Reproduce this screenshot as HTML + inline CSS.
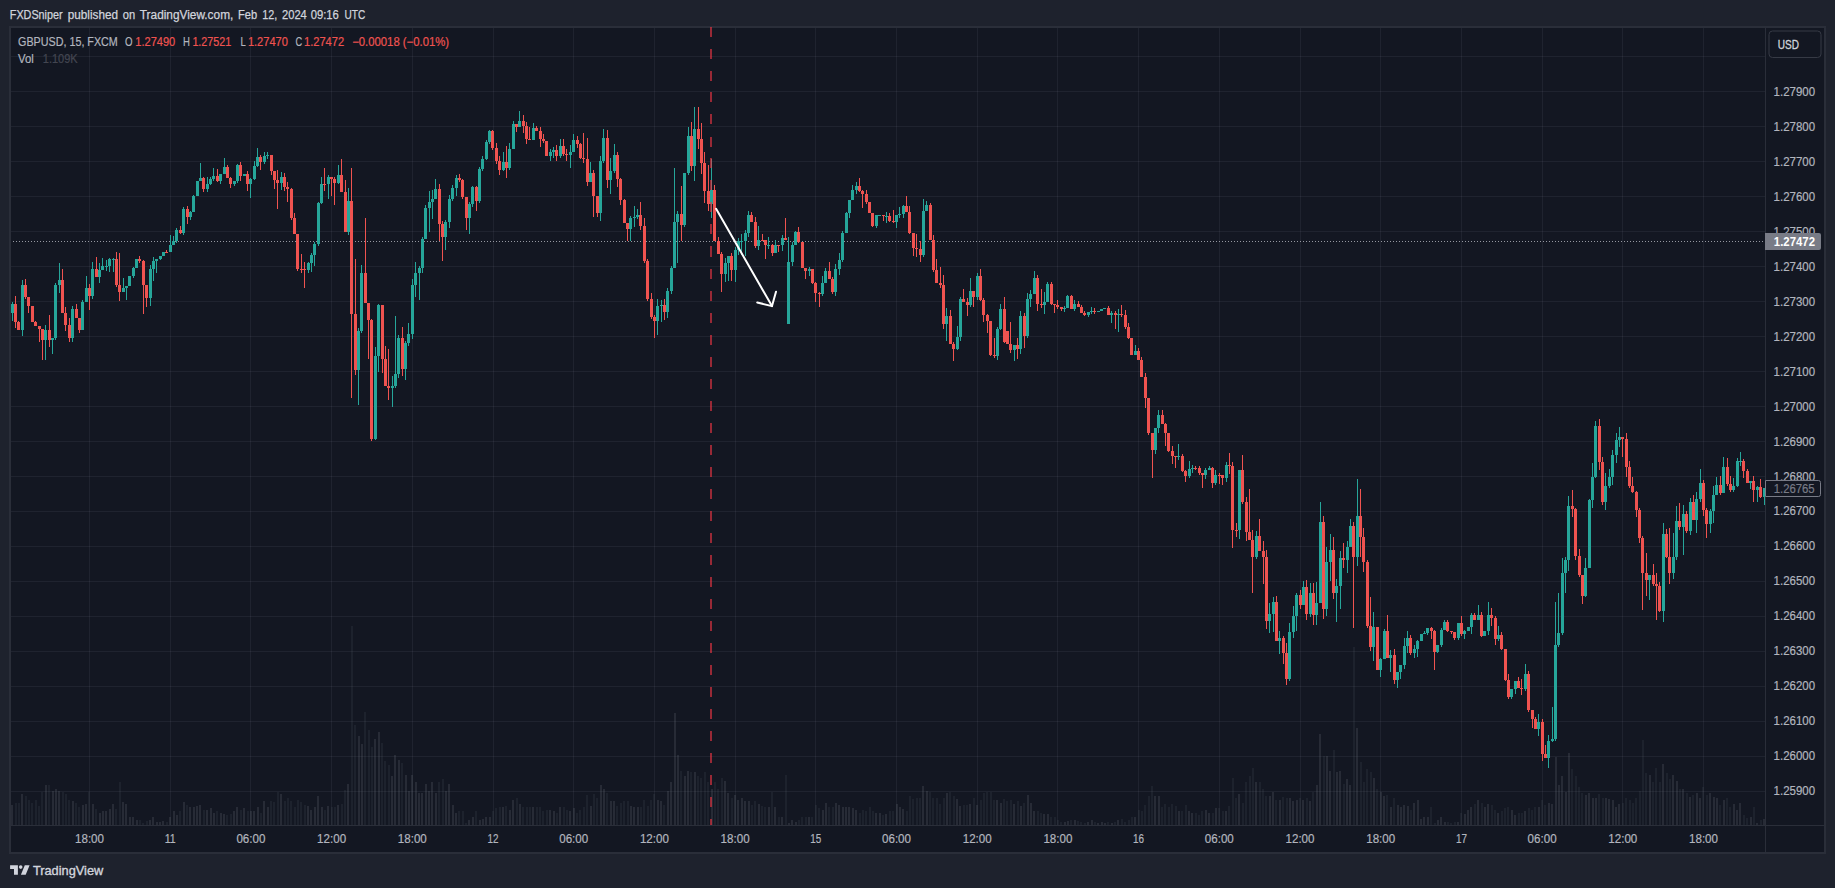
<!DOCTYPE html>
<html lang="en"><head><meta charset="utf-8"><title>GBPUSD chart</title>
<style>
html,body{margin:0;padding:0;}
body{width:1835px;height:888px;background:#1e222d;overflow:hidden;position:relative;font-family:"Liberation Sans","DejaVu Sans",sans-serif;}
#c{position:absolute;left:0;top:0;}
.t{position:absolute;white-space:nowrap;line-height:1;}
svg text{font-family:"Liberation Sans","DejaVu Sans",sans-serif;}
</style></head><body>
<svg id="c" width="1835" height="888" viewBox="0 0 1835 888" shape-rendering="crispEdges">
<rect x="9" y="26" width="1817" height="828" fill="#2a2e39"/>
<rect x="11" y="28" width="1813" height="824" fill="#131722"/>
<path d="M11 56.5H1765M11 91.5H1765M11 126.5H1765M11 161.5H1765M11 196.5H1765M11 231.5H1765M11 266.5H1765M11 301.5H1765M11 336.5H1765M11 371.5H1765M11 406.5H1765M11 441.5H1765M11 476.5H1765M11 511.5H1765M11 546.5H1765M11 581.5H1765M11 616.5H1765M11 651.5H1765M11 686.5H1765M11 721.5H1765M11 756.5H1765M11 791.5H1765" stroke="rgba(240,243,250,0.06)" stroke-width="1" fill="none"/>
<path d="M89.5 28V825M170.5 28V825M250.5 28V825M331.5 28V825M412.5 28V825M493.5 28V825M573.5 28V825M654.5 28V825M735.5 28V825M815.5 28V825M896.5 28V825M977.5 28V825M1057.5 28V825M1138.5 28V825M1219.5 28V825M1300.5 28V825M1380.5 28V825M1461.5 28V825M1542.5 28V825M1622.5 28V825M1703.5 28V825" stroke="rgba(240,243,250,0.06)" stroke-width="1" fill="none"/>
<path d="M1765.5 28V852 M11 825.5H1824" stroke="#2a2e39" stroke-width="1" fill="none"/>
<path d="M11 825h2V804.8h-2zM21 825h2V794.4h-2zM45 825h2V785.4h-2zM52 825h2V790.5h-2zM55 825h2V788.5h-2zM58 825h2V791.1h-2zM72 825h2V801.4h-2zM82 825h2V805.3h-2zM85 825h2V803.5h-2zM92 825h2V803.5h-2zM99 825h2V812.6h-2zM102 825h2V810.5h-2zM105 825h2V810.5h-2zM109 825h2V808.7h-2zM112 825h2V803.5h-2zM122 825h2V801.7h-2zM125 825h2V803.5h-2zM129 825h2V817.2h-2zM132 825h2V817.2h-2zM136 825h2V820.3h-2zM149 825h2V819.6h-2zM152 825h2V817.2h-2zM156 825h2V822.4h-2zM159 825h2V822.4h-2zM162 825h2V821.1h-2zM169 825h2V816.5h-2zM173 825h2V811.3h-2zM176 825h2V815.2h-2zM183 825h2V802.2h-2zM189 825h2V806.6h-2zM193 825h2V807.4h-2zM196 825h2V805.6h-2zM199 825h2V804.8h-2zM206 825h2V809.5h-2zM210 825h2V808.2h-2zM213 825h2V812.6h-2zM220 825h2V812.6h-2zM223 825h2V814.4h-2zM233 825h2V810.5h-2zM236 825h2V807.4h-2zM243 825h2V808.2h-2zM250 825h2V811.3h-2zM253 825h2V810.5h-2zM257 825h2V807.4h-2zM263 825h2V801.4h-2zM267 825h2V807.4h-2zM280 825h2V794.4h-2zM307 825h2V805.6h-2zM310 825h2V809.5h-2zM314 825h2V806.6h-2zM317 825h2V796.2h-2zM321 825h2V806.6h-2zM327 825h2V805.6h-2zM337 825h2V804.8h-2zM347 825h2V783.5h-2zM358 825h2V736.1h-2zM361 825h2V744.4h-2zM374 825h2V739.2h-2zM378 825h2V731.5h-2zM391 825h2V775.5h-2zM394 825h2V754.8h-2zM398 825h2V759.5h-2zM405 825h2V774.5h-2zM408 825h2V791.3h-2zM411 825h2V774.5h-2zM415 825h2V782.3h-2zM418 825h2V793.1h-2zM421 825h2V793.1h-2zM425 825h2V783.5h-2zM428 825h2V791.3h-2zM431 825h2V782.3h-2zM435 825h2V793.1h-2zM445 825h2V790.5h-2zM448 825h2V783.5h-2zM452 825h2V804.8h-2zM455 825h2V812.6h-2zM468 825h2V819.6h-2zM472 825h2V817.2h-2zM479 825h2V819.6h-2zM482 825h2V818.5h-2zM485 825h2V817.2h-2zM489 825h2V816.5h-2zM502 825h2V806.6h-2zM509 825h2V809.5h-2zM512 825h2V800.4h-2zM519 825h2V803.5h-2zM532 825h2V807.4h-2zM549 825h2V809.5h-2zM553 825h2V810.5h-2zM559 825h2V807.4h-2zM569 825h2V810.5h-2zM573 825h2V808.2h-2zM590 825h2V805.6h-2zM600 825h2V784.6h-2zM603 825h2V788.5h-2zM610 825h2V801.4h-2zM613 825h2V801.4h-2zM630 825h2V805.6h-2zM633 825h2V806.6h-2zM637 825h2V806.6h-2zM657 825h2V800.4h-2zM660 825h2V801.4h-2zM667 825h2V790.5h-2zM670 825h2V782.3h-2zM674 825h2V713.3h-2zM677 825h2V754.8h-2zM684 825h2V776.3h-2zM687 825h2V770.6h-2zM694 825h2V771.6h-2zM711 825h2V788.5h-2zM724 825h2V780.7h-2zM727 825h2V793.1h-2zM734 825h2V795.2h-2zM737 825h2V799.6h-2zM741 825h2V798.3h-2zM744 825h2V801.4h-2zM748 825h2V801.4h-2zM758 825h2V803.5h-2zM768 825h2V807.4h-2zM774 825h2V807.4h-2zM781 825h2V817.2h-2zM788 825h2V823.4h-2zM791 825h2V820.3h-2zM795 825h2V822.4h-2zM808 825h2V816.5h-2zM822 825h2V809.5h-2zM825 825h2V802.7h-2zM835 825h2V802.7h-2zM838 825h2V804.8h-2zM842 825h2V807.4h-2zM845 825h2V806.6h-2zM848 825h2V807.4h-2zM852 825h2V808.2h-2zM855 825h2V809.5h-2zM875 825h2V813.3h-2zM879 825h2V813.3h-2zM885 825h2V814.4h-2zM896 825h2V803.5h-2zM899 825h2V807.4h-2zM902 825h2V808.7h-2zM922 825h2V786.1h-2zM926 825h2V790.5h-2zM946 825h2V793.1h-2zM956 825h2V799.1h-2zM959 825h2V805.6h-2zM969 825h2V803.5h-2zM976 825h2V804.8h-2zM996 825h2V800.4h-2zM1000 825h2V802.7h-2zM1013 825h2V804.3h-2zM1020 825h2V805.6h-2zM1027 825h2V795.2h-2zM1030 825h2V802.7h-2zM1033 825h2V811.3h-2zM1043 825h2V814.4h-2zM1047 825h2V814.4h-2zM1064 825h2V822.4h-2zM1067 825h2V821.1h-2zM1074 825h2V820.3h-2zM1087 825h2V821.6h-2zM1091 825h2V820.3h-2zM1097 825h2V823.4h-2zM1101 825h2V822.4h-2zM1104 825h2V822.9h-2zM1111 825h2V822.9h-2zM1117 825h2V820.3h-2zM1134 825h2V816.5h-2zM1154 825h2V796.2h-2zM1158 825h2V796.2h-2zM1178 825h2V810.5h-2zM1188 825h2V810.5h-2zM1191 825h2V812.6h-2zM1205 825h2V809.5h-2zM1208 825h2V813.3h-2zM1215 825h2V808.2h-2zM1225 825h2V810.5h-2zM1238 825h2V794.4h-2zM1255 825h2V781.5h-2zM1269 825h2V796.2h-2zM1272 825h2V791.8h-2zM1279 825h2V800.4h-2zM1289 825h2V798.3h-2zM1292 825h2V801.4h-2zM1296 825h2V799.6h-2zM1302 825h2V800.4h-2zM1309 825h2V801.4h-2zM1316 825h2V784.6h-2zM1319 825h2V733.5h-2zM1326 825h2V755.6h-2zM1329 825h2V770.6h-2zM1336 825h2V771.6h-2zM1339 825h2V770.6h-2zM1346 825h2V779.4h-2zM1349 825h2V785.4h-2zM1356 825h2V728.4h-2zM1373 825h2V777.6h-2zM1380 825h2V791.8h-2zM1383 825h2V796.2h-2zM1390 825h2V806.6h-2zM1397 825h2V804.8h-2zM1400 825h2V806.6h-2zM1403 825h2V804.8h-2zM1407 825h2V805.6h-2zM1413 825h2V802.7h-2zM1417 825h2V800.4h-2zM1420 825h2V818.5h-2zM1423 825h2V816.5h-2zM1427 825h2V816.5h-2zM1437 825h2V819.6h-2zM1440 825h2V817.2h-2zM1444 825h2V821.6h-2zM1457 825h2V822.4h-2zM1464 825h2V814.4h-2zM1467 825h2V809.5h-2zM1470 825h2V807.4h-2zM1477 825h2V800.4h-2zM1484 825h2V807.4h-2zM1487 825h2V803.5h-2zM1497 825h2V812.6h-2zM1511 825h2V809.5h-2zM1514 825h2V815.2h-2zM1524 825h2V811.3h-2zM1538 825h2V807.4h-2zM1548 825h2V802.7h-2zM1551 825h2V803.5h-2zM1555 825h2V756.9h-2zM1558 825h2V785.4h-2zM1561 825h2V775.5h-2zM1565 825h2V791.8h-2zM1568 825h2V752.5h-2zM1585 825h2V795.2h-2zM1588 825h2V793.1h-2zM1592 825h2V797.5h-2zM1595 825h2V797.5h-2zM1605 825h2V798.3h-2zM1608 825h2V799.1h-2zM1612 825h2V800.4h-2zM1615 825h2V806.6h-2zM1618 825h2V803.5h-2zM1649 825h2V774.5h-2zM1662 825h2V764.1h-2zM1672 825h2V774.5h-2zM1676 825h2V780.7h-2zM1682 825h2V788.5h-2zM1689 825h2V797h-2zM1696 825h2V793.1h-2zM1699 825h2V797.5h-2zM1709 825h2V793.1h-2zM1713 825h2V797h-2zM1716 825h2V797.5h-2zM1723 825h2V800.4h-2zM1733 825h2V803.5h-2zM1736 825h2V809.5h-2zM1739 825h2V802.7h-2zM1750 825h2V817.2h-2zM1756 825h2V823.4h-2zM1763 825h2V818.5h-2z" fill="rgba(120,123,134,0.2)"/>
<path d="M15 825h2V802.7h-2zM18 825h2V802.7h-2zM25 825h2V796.2h-2zM28 825h2V799.6h-2zM31 825h2V802.7h-2zM35 825h2V799.6h-2zM38 825h2V805.6h-2zM41 825h2V792.4h-2zM48 825h2V785.4h-2zM62 825h2V791.8h-2zM65 825h2V794.4h-2zM68 825h2V800.4h-2zM75 825h2V803h-2zM78 825h2V806.6h-2zM88 825h2V791.8h-2zM95 825h2V808.7h-2zM115 825h2V808.7h-2zM119 825h2V781.5h-2zM139 825h2V819.6h-2zM142 825h2V823.4h-2zM146 825h2V820.9h-2zM166 825h2V821.6h-2zM179 825h2V810.8h-2zM186 825h2V804.8h-2zM203 825h2V809.5h-2zM216 825h2V810.5h-2zM226 825h2V815.2h-2zM230 825h2V814.4h-2zM240 825h2V809.5h-2zM247 825h2V810.5h-2zM260 825h2V812.6h-2zM270 825h2V801.4h-2zM273 825h2V802.2h-2zM277 825h2V791.8h-2zM284 825h2V801.4h-2zM287 825h2V797.5h-2zM290 825h2V801.4h-2zM294 825h2V806.6h-2zM297 825h2V800.4h-2zM300 825h2V802.2h-2zM304 825h2V804.8h-2zM324 825h2V809.5h-2zM331 825h2V806.6h-2zM334 825h2V807.4h-2zM341 825h2V803.5h-2zM344 825h2V790h-2zM351 825h2V626h-2zM354 825h2V724.5h-2zM364 825h2V712.3h-2zM368 825h2V730.4h-2zM371 825h2V746.5h-2zM381 825h2V743.4h-2zM384 825h2V760.8h-2zM388 825h2V765.4h-2zM401 825h2V762.6h-2zM438 825h2V781.5h-2zM442 825h2V779.4h-2zM458 825h2V811.3h-2zM462 825h2V810.5h-2zM465 825h2V823.4h-2zM475 825h2V810.5h-2zM492 825h2V810.5h-2zM495 825h2V808.2h-2zM499 825h2V807.4h-2zM505 825h2V805.6h-2zM516 825h2V798.3h-2zM522 825h2V806.6h-2zM526 825h2V807.4h-2zM529 825h2V807.4h-2zM536 825h2V807.4h-2zM539 825h2V807.4h-2zM542 825h2V811.3h-2zM546 825h2V809.5h-2zM556 825h2V812.6h-2zM563 825h2V807.4h-2zM566 825h2V809.5h-2zM576 825h2V813.3h-2zM579 825h2V809.5h-2zM583 825h2V806.6h-2zM586 825h2V795.2h-2zM593 825h2V794.4h-2zM596 825h2V797.5h-2zM606 825h2V793.1h-2zM616 825h2V805.6h-2zM620 825h2V802.7h-2zM623 825h2V801.4h-2zM627 825h2V801.4h-2zM640 825h2V806.6h-2zM643 825h2V799.6h-2zM647 825h2V805.6h-2zM650 825h2V799.6h-2zM653 825h2V794.4h-2zM663 825h2V804.8h-2zM680 825h2V770.6h-2zM690 825h2V771.6h-2zM697 825h2V775.5h-2zM700 825h2V778.4h-2zM704 825h2V771.6h-2zM707 825h2V782.3h-2zM714 825h2V782.3h-2zM717 825h2V789.2h-2zM721 825h2V777.6h-2zM731 825h2V797.5h-2zM751 825h2V804.8h-2zM754 825h2V801.4h-2zM761 825h2V805.6h-2zM764 825h2V807.4h-2zM771 825h2V792.4h-2zM778 825h2V817.2h-2zM785 825h2V774.5h-2zM798 825h2V819.6h-2zM801 825h2V816.5h-2zM805 825h2V817.2h-2zM811 825h2V817.2h-2zM815 825h2V804.8h-2zM818 825h2V808.2h-2zM828 825h2V806.6h-2zM832 825h2V807.4h-2zM859 825h2V812.6h-2zM862 825h2V809.5h-2zM865 825h2V811.3h-2zM869 825h2V807.4h-2zM872 825h2V811.3h-2zM882 825h2V815.2h-2zM889 825h2V810.5h-2zM892 825h2V811.3h-2zM906 825h2V810.5h-2zM909 825h2V795.7h-2zM912 825h2V799.1h-2zM916 825h2V798.3h-2zM919 825h2V798.3h-2zM929 825h2V791.8h-2zM932 825h2V797.5h-2zM936 825h2V797.5h-2zM939 825h2V803.5h-2zM943 825h2V797.5h-2zM949 825h2V792.4h-2zM953 825h2V796.2h-2zM963 825h2V804.8h-2zM966 825h2V804.8h-2zM973 825h2V798.3h-2zM980 825h2V800.4h-2zM983 825h2V793.1h-2zM986 825h2V791.8h-2zM990 825h2V791.8h-2zM993 825h2V800.4h-2zM1003 825h2V799.1h-2zM1006 825h2V801.4h-2zM1010 825h2V800.4h-2zM1017 825h2V801.4h-2zM1023 825h2V802.7h-2zM1037 825h2V810.5h-2zM1040 825h2V812.6h-2zM1050 825h2V816.5h-2zM1054 825h2V817.2h-2zM1057 825h2V820.3h-2zM1060 825h2V822.4h-2zM1070 825h2V820.3h-2zM1077 825h2V821.1h-2zM1080 825h2V821.6h-2zM1084 825h2V822.9h-2zM1094 825h2V822.4h-2zM1107 825h2V822.4h-2zM1114 825h2V821.6h-2zM1121 825h2V818.5h-2zM1124 825h2V821.6h-2zM1128 825h2V820.3h-2zM1131 825h2V817.2h-2zM1138 825h2V809.5h-2zM1141 825h2V810.5h-2zM1144 825h2V804.8h-2zM1148 825h2V796.2h-2zM1151 825h2V786.1h-2zM1161 825h2V806.6h-2zM1164 825h2V803.5h-2zM1168 825h2V807.4h-2zM1171 825h2V803.5h-2zM1175 825h2V805.6h-2zM1181 825h2V810.5h-2zM1185 825h2V804.8h-2zM1195 825h2V813.3h-2zM1198 825h2V815.2h-2zM1201 825h2V810.5h-2zM1212 825h2V812.6h-2zM1218 825h2V808.2h-2zM1222 825h2V810.5h-2zM1228 825h2V805.6h-2zM1232 825h2V778.4h-2zM1235 825h2V797.5h-2zM1242 825h2V802.7h-2zM1245 825h2V782.3h-2zM1249 825h2V775.5h-2zM1252 825h2V767.7h-2zM1259 825h2V781.5h-2zM1262 825h2V789.2h-2zM1265 825h2V795.7h-2zM1275 825h2V799.6h-2zM1282 825h2V797h-2zM1286 825h2V798.3h-2zM1299 825h2V798.3h-2zM1306 825h2V797.5h-2zM1312 825h2V792.4h-2zM1323 825h2V755.6h-2zM1333 825h2V749.6h-2zM1343 825h2V783.5h-2zM1353 825h2V646.8h-2zM1360 825h2V761.5h-2zM1363 825h2V781.5h-2zM1366 825h2V768.5h-2zM1370 825h2V772.4h-2zM1376 825h2V788.5h-2zM1386 825h2V795.2h-2zM1393 825h2V798.3h-2zM1410 825h2V809.5h-2zM1430 825h2V806.6h-2zM1434 825h2V823.4h-2zM1447 825h2V821.6h-2zM1450 825h2V822.9h-2zM1454 825h2V822.4h-2zM1460 825h2V812.6h-2zM1474 825h2V803.5h-2zM1481 825h2V802.7h-2zM1491 825h2V804.8h-2zM1494 825h2V809.5h-2zM1501 825h2V811.3h-2zM1504 825h2V808.2h-2zM1507 825h2V807.4h-2zM1518 825h2V812.6h-2zM1521 825h2V812.6h-2zM1528 825h2V808.2h-2zM1531 825h2V809.5h-2zM1534 825h2V807.4h-2zM1541 825h2V800.4h-2zM1544 825h2V804.8h-2zM1571 825h2V768.5h-2zM1575 825h2V775.5h-2zM1578 825h2V787.4h-2zM1581 825h2V793.1h-2zM1598 825h2V793.7h-2zM1602 825h2V798.3h-2zM1622 825h2V802.7h-2zM1625 825h2V797.5h-2zM1629 825h2V800.4h-2zM1632 825h2V802.7h-2zM1635 825h2V797.5h-2zM1639 825h2V791.1h-2zM1642 825h2V739.5h-2zM1645 825h2V773.2h-2zM1652 825h2V782.3h-2zM1655 825h2V767.7h-2zM1659 825h2V781.5h-2zM1666 825h2V773.2h-2zM1669 825h2V778.9h-2zM1679 825h2V788.5h-2zM1686 825h2V793.1h-2zM1692 825h2V795.2h-2zM1702 825h2V787.4h-2zM1706 825h2V795.2h-2zM1719 825h2V804.8h-2zM1726 825h2V797.5h-2zM1729 825h2V806.6h-2zM1743 825h2V815.2h-2zM1746 825h2V817.7h-2zM1753 825h2V807.4h-2zM1760 825h2V820.3h-2z" fill="rgba(120,123,134,0.11)"/>
<path d="M13 241.5H1765" stroke="#9598a1" stroke-width="1" stroke-dasharray="1 2" fill="none"/>
<clipPath id="pc"><rect x="11" y="28" width="1754" height="797"/></clipPath><g clip-path="url(#pc)">
<path d="M12.5 302V321M22.5 280V336M45.5 325V360M52.5 338V354M55.5 283V340M59.5 263V293M72.5 306V342M82.5 300V330M86.5 276V302M92.5 262V299M99.5 263V283M102.5 258V270M106.5 260V271M109.5 258V272M113.5 258V272M123.5 278V292M126.5 286V300M129.5 276V286M133.5 267V278M136.5 259V268M150.5 265V306M153.5 257V281M156.5 259V273M160.5 256V260M163.5 252V256M170.5 235V252M173.5 236V245M176.5 228V243M183.5 207V235M190.5 211V220M193.5 195V212M197.5 181V196M200.5 163V181M207.5 177V192M210.5 177V185M213.5 168V181M220.5 174V184M224.5 158V174M234.5 181V186M237.5 164V183M244.5 174V176M250.5 178V198M254.5 161V180M257.5 148V167M264.5 152V164M267.5 152V159M281.5 172V190M308.5 262V273M311.5 253V272M314.5 242V266M318.5 202V246M321.5 177V204M328.5 175V199M338.5 165V184M348.5 188V235M358.5 328V405M361.5 265V333M375.5 347V440M378.5 304V372M392.5 376V407M395.5 316V388M398.5 335V378M405.5 341V380M408.5 323V346M412.5 279V339M415.5 262V297M419.5 266V300M422.5 237V273M425.5 205V239M429.5 191V232M432.5 190V219M435.5 179V199M445.5 220V250M449.5 195V228M452.5 185V201M456.5 175V196M469.5 202V234M472.5 186V207M479.5 167V203M482.5 156V171M486.5 140V160M489.5 130V144M503.5 152V171M509.5 143V170M513.5 121V149M519.5 111V127M533.5 123V140M550.5 149V161M553.5 147V158M560.5 139V158M570.5 145V168M573.5 134V152M590.5 162V182M600.5 156V221M603.5 129V163M610.5 158V194M614.5 144V173M630.5 216V241M634.5 206V227M637.5 209V219M657.5 299V335M661.5 300V322M667.5 288V318M671.5 266V294M674.5 168V268M677.5 211V263M684.5 173V227M688.5 127V175M694.5 107V181M711.5 159V218M725.5 258V282M728.5 256V281M735.5 247V282M738.5 238V255M741.5 234V255M745.5 230V256M748.5 211V237M758.5 226V250M768.5 237V249M775.5 240V253M782.5 235V251M788.5 237V324M792.5 242V266M795.5 231V245M809.5 267V276M822.5 276V296M825.5 268V283M835.5 264V296M839.5 253V275M842.5 231V262M846.5 212V233M849.5 200V218M852.5 185V200M856.5 182V194M876.5 215V228M879.5 215V216M886.5 212V223M896.5 215V228M899.5 207V218M903.5 205V218M923.5 199V257M926.5 201V211M946.5 308V341M957.5 326V350M960.5 297V341M970.5 278V307M977.5 273V300M997.5 327V360M1000.5 304V330M1014.5 345V361M1020.5 311V354M1027.5 293V338M1030.5 290V307M1034.5 271V294M1044.5 292V314M1047.5 282V302M1064.5 306V312M1067.5 295V308M1074.5 300V311M1088.5 312V317M1091.5 307V314M1098.5 311V312M1101.5 309V311M1104.5 308V309M1111.5 311V323M1118.5 309V332M1135.5 345V355M1155.5 428V454M1158.5 410V433M1178.5 444V460M1189.5 461V478M1192.5 465V473M1205.5 468V479M1209.5 466V470M1215.5 470V485M1226.5 462V482M1239.5 470V539M1256.5 531V559M1269.5 603V633M1273.5 597V632M1279.5 631V654M1289.5 623V681M1293.5 606V638M1296.5 593V631M1303.5 581V605M1310.5 583V617M1316.5 582V625M1320.5 502V603M1326.5 547V616M1330.5 534V581M1336.5 579V622M1340.5 551V609M1347.5 541V573M1350.5 519V547M1357.5 479V566M1373.5 612V661M1380.5 658V677M1384.5 629V659M1390.5 650V672M1397.5 672V688M1400.5 665V679M1404.5 638V669M1407.5 631V653M1414.5 645V658M1417.5 640V657M1421.5 634V641M1424.5 631V634M1427.5 628V635M1437.5 645V653M1441.5 628V647M1444.5 620V630M1458.5 623V640M1464.5 630V639M1468.5 627V631M1471.5 613V634M1478.5 605V620M1484.5 631V636M1488.5 602V635M1498.5 626V641M1511.5 689V699M1515.5 681V694M1525.5 664V691M1538.5 714V736M1548.5 735V768M1552.5 707V742M1555.5 602V741M1558.5 593V647M1562.5 558V635M1565.5 557V593M1568.5 496V571M1585.5 558V597M1589.5 499V568M1592.5 463V508M1595.5 421V478M1605.5 473V510M1609.5 469V488M1612.5 450V485M1616.5 433V463M1619.5 427V447M1649.5 575V600M1663.5 523V622M1673.5 533V579M1676.5 506V560M1683.5 505V555M1690.5 498V535M1696.5 492V533M1700.5 469V502M1710.5 509V533M1713.5 486V523M1716.5 477V495M1723.5 457V493M1733.5 478V492M1737.5 458V487M1740.5 452V466M1750.5 481V489M1757.5 486V502M1764.5 488V505" stroke="#26a69a" stroke-width="1" fill="none"/>
<path d="M11 304h3V313h-3zM21 285h3V330h-3zM44 330h3V340h-3zM51 338h3V340h-3zM54 285h3V338h-3zM58 280h3V285h-3zM71 309h3V338h-3zM81 302h3V330h-3zM85 288h3V302h-3zM91 269h3V296h-3zM98 270h3V277h-3zM101 266h3V270h-3zM105 266h3V267h-3zM108 259h3V266h-3zM112 259h3V260h-3zM122 288h3V292h-3zM125 286h3V288h-3zM128 276h3V286h-3zM132 268h3V276h-3zM135 259h3V268h-3zM149 269h3V298h-3zM152 261h3V269h-3zM155 259h3V261h-3zM159 256h3V259h-3zM162 252h3V256h-3zM169 245h3V252h-3zM172 241h3V245h-3zM175 230h3V241h-3zM182 209h3V233h-3zM189 212h3V217h-3zM192 196h3V212h-3zM196 181h3V196h-3zM199 178h3V181h-3zM206 184h3V189h-3zM209 179h3V184h-3zM212 176h3V179h-3zM219 174h3V181h-3zM223 167h3V174h-3zM233 181h3V184h-3zM236 165h3V181h-3zM243 174h3V176h-3zM249 179h3V184h-3zM253 166h3V179h-3zM256 157h3V166h-3zM263 156h3V162h-3zM266 155h3V156h-3zM280 177h3V183h-3zM307 263h3V270h-3zM310 255h3V263h-3zM313 244h3V255h-3zM317 203h3V244h-3zM320 184h3V203h-3zM327 177h3V184h-3zM337 175h3V183h-3zM347 201h3V232h-3zM357 331h3V370h-3zM360 273h3V331h-3zM374 356h3V439h-3zM377 305h3V356h-3zM391 386h3V388h-3zM394 374h3V386h-3zM397 338h3V374h-3zM404 343h3V369h-3zM407 334h3V343h-3zM411 285h3V334h-3zM414 273h3V285h-3zM418 268h3V273h-3zM421 239h3V268h-3zM424 208h3V239h-3zM428 202h3V208h-3zM431 199h3V202h-3zM434 189h3V199h-3zM444 222h3V237h-3zM448 199h3V222h-3zM451 188h3V199h-3zM455 178h3V188h-3zM468 204h3V218h-3zM471 187h3V204h-3zM478 169h3V201h-3zM481 159h3V169h-3zM485 142h3V159h-3zM488 131h3V142h-3zM502 162h3V170h-3zM508 149h3V168h-3zM512 124h3V149h-3zM518 121h3V127h-3zM532 128h3V140h-3zM549 152h3V156h-3zM552 150h3V152h-3zM559 146h3V156h-3zM569 152h3V155h-3zM572 140h3V152h-3zM589 173h3V182h-3zM599 161h3V213h-3zM602 138h3V161h-3zM609 171h3V180h-3zM613 155h3V171h-3zM629 218h3V229h-3zM633 217h3V218h-3zM636 215h3V217h-3zM656 306h3V321h-3zM660 305h3V306h-3zM666 291h3V312h-3zM670 268h3V291h-3zM673 222h3V268h-3zM676 214h3V222h-3zM683 173h3V225h-3zM687 136h3V173h-3zM693 129h3V166h-3zM710 190h3V204h-3zM724 263h3V274h-3zM727 256h3V263h-3zM734 250h3V270h-3zM737 241h3V250h-3zM740 241h3V242h-3zM744 233h3V241h-3zM747 215h3V233h-3zM757 240h3V246h-3zM767 245h3V246h-3zM774 245h3V253h-3zM781 238h3V245h-3zM787 262h3V324h-3zM791 245h3V262h-3zM794 232h3V245h-3zM808 269h3V271h-3zM821 283h3V294h-3zM824 271h3V283h-3zM834 269h3V292h-3zM838 260h3V269h-3zM841 233h3V260h-3zM845 213h3V233h-3zM848 200h3V213h-3zM851 190h3V200h-3zM855 186h3V190h-3zM875 215h3V226h-3zM878 215h3V216h-3zM885 216h3V217h-3zM895 215h3V222h-3zM898 214h3V215h-3zM902 206h3V214h-3zM922 211h3V255h-3zM925 205h3V211h-3zM945 316h3V324h-3zM956 337h3V349h-3zM959 299h3V337h-3zM969 291h3V305h-3zM976 276h3V297h-3zM996 329h3V356h-3zM999 309h3V329h-3zM1013 345h3V350h-3zM1019 316h3V349h-3zM1026 299h3V336h-3zM1029 294h3V299h-3zM1033 278h3V294h-3zM1043 302h3V305h-3zM1046 284h3V302h-3zM1063 308h3V309h-3zM1066 296h3V308h-3zM1073 304h3V309h-3zM1087 312h3V315h-3zM1090 311h3V312h-3zM1097 311h3V312h-3zM1100 309h3V311h-3zM1103 308h3V309h-3zM1110 313h3V315h-3zM1117 314h3V315h-3zM1134 351h3V355h-3zM1154 428h3V450h-3zM1157 415h3V428h-3zM1177 456h3V457h-3zM1188 469h3V476h-3zM1191 468h3V469h-3zM1204 470h3V475h-3zM1208 468h3V470h-3zM1214 475h3V483h-3zM1225 465h3V478h-3zM1238 470h3V530h-3zM1255 536h3V557h-3zM1268 614h3V621h-3zM1272 602h3V614h-3zM1278 638h3V641h-3zM1288 632h3V679h-3zM1292 616h3V632h-3zM1295 595h3V616h-3zM1302 587h3V605h-3zM1309 593h3V614h-3zM1315 603h3V615h-3zM1319 522h3V603h-3zM1325 562h3V609h-3zM1329 550h3V562h-3zM1335 586h3V593h-3zM1339 558h3V586h-3zM1346 547h3V560h-3zM1349 526h3V547h-3zM1356 516h3V557h-3zM1372 627h3V647h-3zM1379 659h3V670h-3zM1383 631h3V659h-3zM1389 655h3V658h-3zM1396 672h3V680h-3zM1399 665h3V672h-3zM1403 646h3V665h-3zM1406 638h3V646h-3zM1413 649h3V653h-3zM1416 641h3V649h-3zM1420 634h3V641h-3zM1423 633h3V634h-3zM1426 628h3V633h-3zM1436 645h3V652h-3zM1440 630h3V645h-3zM1443 622h3V630h-3zM1457 623h3V638h-3zM1463 631h3V634h-3zM1467 627h3V631h-3zM1470 615h3V627h-3zM1477 615h3V620h-3zM1483 631h3V636h-3zM1487 615h3V631h-3zM1497 635h3V639h-3zM1510 689h3V697h-3zM1514 681h3V689h-3zM1524 674h3V689h-3zM1537 722h3V729h-3zM1547 741h3V758h-3zM1551 739h3V741h-3zM1554 645h3V739h-3zM1557 633h3V645h-3zM1561 573h3V633h-3zM1564 560h3V573h-3zM1567 506h3V560h-3zM1584 568h3V596h-3zM1588 500h3V568h-3zM1591 477h3V500h-3zM1594 426h3V477h-3zM1604 486h3V502h-3zM1608 477h3V486h-3zM1611 455h3V477h-3zM1615 440h3V455h-3zM1618 437h3V440h-3zM1648 575h3V580h-3zM1662 534h3V611h-3zM1672 557h3V573h-3zM1675 521h3V557h-3zM1682 514h3V527h-3zM1689 502h3V531h-3zM1695 499h3V520h-3zM1699 483h3V499h-3zM1709 511h3V524h-3zM1712 495h3V511h-3zM1715 485h3V495h-3zM1722 467h3V493h-3zM1732 486h3V490h-3zM1736 461h3V486h-3zM1739 461h3V462h-3zM1749 481h3V483h-3zM1756 487h3V490h-3zM1763 488h3V497h-3z" fill="#26a69a"/>
<path d="M15.5 296V328M18.5 321V330M25.5 279V299M28.5 297V313M32.5 306V322M35.5 321V326M39.5 326V342M42.5 329V360M49.5 315V347M62.5 269V313M65.5 307V331M69.5 318V342M76.5 304V318M79.5 318V333M89.5 284V310M96.5 257V277M116.5 252V287M119.5 253V301M139.5 256V263M143.5 260V314M146.5 285V307M166.5 250V253M180.5 226V234M187.5 206V224M203.5 177V192M217.5 169V182M227.5 165V178M230.5 177V188M240.5 162V181M247.5 171V191M260.5 155V170M271.5 155V175M274.5 171V189M277.5 170V209M284.5 173V191M287.5 182V202M291.5 188V220M294.5 213V234M297.5 234V271M301.5 254V273M304.5 262V288M324.5 168V191M331.5 177V196M334.5 177V205M341.5 159V192M345.5 180V232M351.5 168V398M355.5 259V375M365.5 218V303M368.5 303V359M371.5 319V441M382.5 305V373M385.5 346V386M388.5 349V400M402.5 327V376M439.5 184V241M442.5 221V261M459.5 174V182M462.5 179V199M466.5 197V230M476.5 186V211M492.5 130V150M496.5 143V164M499.5 156V175M506.5 146V178M516.5 124V132M523.5 115V133M526.5 122V144M529.5 127V140M536.5 126V131M540.5 127V147M543.5 134V143M546.5 141V156M556.5 145V161M563.5 139V156M566.5 149V161M577.5 136V148M580.5 143V159M583.5 133V163M587.5 138V186M593.5 170V217M597.5 196V217M607.5 130V188M617.5 152V187M620.5 178V205M624.5 199V223M627.5 223V241M640.5 202V230M644.5 218V263M647.5 259V301M651.5 293V319M654.5 315V338M664.5 299V320M681.5 186V241M691.5 122V171M698.5 107V149M701.5 123V174M704.5 152V203M708.5 165V211M714.5 185V241M718.5 237V254M721.5 252V292M731.5 253V281M751.5 212V222M755.5 217V248M762.5 234V240M765.5 240V259M772.5 244V256M778.5 245V252M785.5 218V240M798.5 227V243M802.5 242V268M805.5 268V279M812.5 269V284M815.5 282V302M819.5 292V307M829.5 262V279M832.5 277V294M859.5 178V192M862.5 190V208M866.5 190V204M869.5 202V213M872.5 213V227M883.5 215V221M889.5 213V222M893.5 210V223M906.5 196V212M909.5 206V234M913.5 233V256M916.5 234V257M920.5 241V262M930.5 203V240M933.5 235V272M936.5 259V283M940.5 267V288M943.5 275V329M950.5 310V344M953.5 342V361M963.5 289V302M967.5 298V316M973.5 291V307M980.5 269V301M983.5 298V322M987.5 314V333M990.5 321V356M994.5 338V358M1004.5 297V343M1007.5 331V344M1010.5 322V353M1017.5 338V359M1024.5 313V348M1037.5 275V311M1041.5 289V308M1051.5 282V305M1054.5 304V313M1057.5 300V309M1061.5 307V311M1071.5 295V309M1078.5 301V307M1081.5 305V313M1084.5 311V316M1094.5 308V314M1108.5 306V315M1115.5 311V329M1121.5 305V317M1125.5 310V329M1128.5 323V339M1131.5 338V355M1138.5 348V360M1141.5 357V377M1145.5 373V408M1148.5 398V435M1152.5 433V478M1162.5 410V424M1165.5 423V446M1168.5 433V452M1172.5 446V464M1175.5 456V468M1182.5 454V472M1185.5 470V482M1195.5 466V470M1199.5 466V475M1202.5 473V488M1212.5 467V488M1219.5 473V484M1222.5 475V485M1229.5 453V474M1232.5 462V548M1236.5 523V537M1242.5 455V504M1246.5 497V541M1249.5 489V540M1252.5 530V593M1259.5 519V551M1263.5 541V584M1266.5 550V629M1276.5 596V641M1283.5 636V664M1286.5 643V685M1300.5 590V609M1306.5 580V620M1313.5 583V625M1323.5 516V619M1333.5 537V599M1343.5 543V568M1353.5 522V628M1360.5 489V557M1363.5 528V572M1367.5 560V628M1370.5 597V651M1377.5 627V670M1387.5 615V658M1394.5 649V684M1410.5 635V655M1431.5 627V639M1434.5 630V670M1447.5 620V632M1451.5 631V634M1454.5 632V640M1461.5 616V636M1474.5 613V620M1481.5 612V637M1491.5 608V626M1495.5 616V645M1501.5 632V650M1505.5 649V681M1508.5 674V699M1518.5 677V688M1521.5 679V695M1528.5 671V712M1532.5 710V728M1535.5 717V729M1542.5 719V761M1545.5 745V758M1572.5 490V517M1575.5 508V560M1579.5 549V577M1582.5 575V604M1599.5 419V470M1602.5 457V505M1622.5 437V457M1626.5 433V477M1629.5 461V488M1632.5 477V493M1636.5 491V517M1639.5 508V543M1642.5 536V610M1646.5 553V596M1653.5 564V586M1656.5 573V620M1659.5 582V612M1666.5 529V558M1669.5 528V584M1679.5 503V530M1686.5 511V533M1693.5 495V520M1703.5 480V516M1706.5 508V538M1720.5 476V495M1727.5 458V486M1730.5 476V492M1743.5 459V478M1747.5 469V483M1753.5 476V502M1760.5 479V498" stroke="#ef5350" stroke-width="1" fill="none"/>
<path d="M14 304h3V322h-3zM17 322h3V330h-3zM24 285h3V297h-3zM27 297h3V306h-3zM31 306h3V322h-3zM34 322h3V326h-3zM38 326h3V329h-3zM41 329h3V340h-3zM48 330h3V340h-3zM61 280h3V313h-3zM64 313h3V325h-3zM68 325h3V338h-3zM75 309h3V318h-3zM78 318h3V330h-3zM88 288h3V296h-3zM95 269h3V277h-3zM115 259h3V285h-3zM118 285h3V292h-3zM138 259h3V261h-3zM142 261h3V285h-3zM145 285h3V298h-3zM165 252h3V253h-3zM179 230h3V233h-3zM186 209h3V217h-3zM202 178h3V189h-3zM216 176h3V181h-3zM226 167h3V178h-3zM229 178h3V184h-3zM239 165h3V176h-3zM246 174h3V184h-3zM259 157h3V162h-3zM270 155h3V171h-3zM273 171h3V180h-3zM276 180h3V183h-3zM283 177h3V187h-3zM286 187h3V189h-3zM290 189h3V218h-3zM293 218h3V234h-3zM296 234h3V269h-3zM300 269h3V270h-3zM303 269h3V270h-3zM323 184h3V185h-3zM330 177h3V179h-3zM333 179h3V183h-3zM340 175h3V192h-3zM344 192h3V232h-3zM350 201h3V314h-3zM354 314h3V370h-3zM364 273h3V303h-3zM367 303h3V320h-3zM370 320h3V439h-3zM381 305h3V359h-3zM384 359h3V386h-3zM387 386h3V388h-3zM401 338h3V369h-3zM438 189h3V224h-3zM441 224h3V237h-3zM458 178h3V180h-3zM461 180h3V197h-3zM465 197h3V218h-3zM475 187h3V201h-3zM491 131h3V148h-3zM495 148h3V161h-3zM498 161h3V170h-3zM505 162h3V168h-3zM515 124h3V127h-3zM522 121h3V126h-3zM525 126h3V139h-3zM528 139h3V140h-3zM535 128h3V131h-3zM539 131h3V139h-3zM542 139h3V141h-3zM545 141h3V156h-3zM555 150h3V156h-3zM562 146h3V154h-3zM565 154h3V155h-3zM576 140h3V144h-3zM579 144h3V158h-3zM582 158h3V159h-3zM586 159h3V182h-3zM592 173h3V196h-3zM596 196h3V213h-3zM606 138h3V180h-3zM616 155h3V179h-3zM619 179h3V200h-3zM623 200h3V223h-3zM626 223h3V229h-3zM639 215h3V226h-3zM643 226h3V261h-3zM646 261h3V299h-3zM650 299h3V317h-3zM653 317h3V321h-3zM663 305h3V312h-3zM680 214h3V225h-3zM690 136h3V166h-3zM697 129h3V139h-3zM700 139h3V163h-3zM703 163h3V191h-3zM707 191h3V204h-3zM713 190h3V241h-3zM717 241h3V254h-3zM720 254h3V274h-3zM730 256h3V270h-3zM750 215h3V222h-3zM754 222h3V246h-3zM761 240h3V241h-3zM764 240h3V245h-3zM771 245h3V253h-3zM777 245h3V246h-3zM784 238h3V240h-3zM797 232h3V242h-3zM801 242h3V268h-3zM804 268h3V271h-3zM811 269h3V283h-3zM814 283h3V293h-3zM818 293h3V294h-3zM828 271h3V279h-3zM831 279h3V292h-3zM858 186h3V191h-3zM861 191h3V194h-3zM865 194h3V202h-3zM868 202h3V213h-3zM871 213h3V226h-3zM882 215h3V216h-3zM888 216h3V221h-3zM892 221h3V222h-3zM905 206h3V212h-3zM908 212h3V233h-3zM912 233h3V248h-3zM915 248h3V249h-3zM919 249h3V255h-3zM929 205h3V240h-3zM932 240h3V270h-3zM935 270h3V283h-3zM939 283h3V285h-3zM942 285h3V324h-3zM949 316h3V344h-3zM952 344h3V349h-3zM962 299h3V302h-3zM966 302h3V305h-3zM972 291h3V297h-3zM979 276h3V300h-3zM982 300h3V315h-3zM986 315h3V321h-3zM989 321h3V355h-3zM993 355h3V356h-3zM1003 309h3V342h-3zM1006 331h3V344h-3zM1009 344h3V350h-3zM1016 345h3V349h-3zM1023 316h3V336h-3zM1036 278h3V304h-3zM1040 304h3V305h-3zM1050 284h3V304h-3zM1053 304h3V305h-3zM1056 305h3V307h-3zM1060 307h3V309h-3zM1070 296h3V309h-3zM1077 304h3V307h-3zM1080 307h3V313h-3zM1083 313h3V315h-3zM1093 311h3V312h-3zM1107 308h3V315h-3zM1114 313h3V315h-3zM1120 314h3V315h-3zM1124 315h3V327h-3zM1127 327h3V338h-3zM1130 338h3V355h-3zM1137 351h3V360h-3zM1140 360h3V377h-3zM1144 377h3V398h-3zM1147 398h3V433h-3zM1151 433h3V450h-3zM1161 415h3V424h-3zM1164 424h3V433h-3zM1167 433h3V451h-3zM1171 451h3V456h-3zM1174 456h3V457h-3zM1181 456h3V471h-3zM1184 471h3V476h-3zM1194 468h3V469h-3zM1198 468h3V473h-3zM1201 473h3V475h-3zM1211 468h3V483h-3zM1218 475h3V476h-3zM1221 475h3V478h-3zM1228 465h3V466h-3zM1231 466h3V530h-3zM1235 530h3V531h-3zM1241 470h3V502h-3zM1245 502h3V532h-3zM1248 532h3V540h-3zM1251 540h3V557h-3zM1258 536h3V551h-3zM1262 551h3V557h-3zM1265 557h3V621h-3zM1275 602h3V641h-3zM1282 638h3V653h-3zM1285 653h3V679h-3zM1299 595h3V605h-3zM1305 587h3V614h-3zM1312 593h3V615h-3zM1322 522h3V609h-3zM1332 550h3V593h-3zM1342 558h3V560h-3zM1352 526h3V557h-3zM1359 516h3V537h-3zM1362 537h3V562h-3zM1366 562h3V626h-3zM1369 626h3V647h-3zM1376 627h3V670h-3zM1386 631h3V658h-3zM1393 655h3V680h-3zM1409 638h3V653h-3zM1430 628h3V631h-3zM1433 631h3V652h-3zM1446 622h3V631h-3zM1450 631h3V632h-3zM1453 632h3V638h-3zM1460 623h3V634h-3zM1473 615h3V620h-3zM1480 615h3V636h-3zM1490 615h3V618h-3zM1494 618h3V639h-3zM1500 635h3V649h-3zM1504 649h3V680h-3zM1507 680h3V697h-3zM1517 681h3V688h-3zM1520 688h3V689h-3zM1527 674h3V710h-3zM1531 710h3V719h-3zM1534 719h3V729h-3zM1541 722h3V754h-3zM1544 754h3V758h-3zM1571 506h3V509h-3zM1574 509h3V556h-3zM1578 556h3V575h-3zM1581 575h3V596h-3zM1598 426h3V462h-3zM1601 462h3V502h-3zM1621 437h3V439h-3zM1625 439h3V467h-3zM1628 467h3V486h-3zM1631 486h3V492h-3zM1635 492h3V510h-3zM1638 510h3V538h-3zM1641 538h3V573h-3zM1645 573h3V580h-3zM1652 575h3V584h-3zM1655 584h3V586h-3zM1658 586h3V611h-3zM1665 534h3V557h-3zM1668 557h3V573h-3zM1678 521h3V527h-3zM1685 514h3V531h-3zM1692 502h3V520h-3zM1702 483h3V510h-3zM1705 510h3V524h-3zM1719 485h3V493h-3zM1726 467h3V484h-3zM1729 484h3V490h-3zM1742 461h3V471h-3zM1746 471h3V483h-3zM1752 481h3V490h-3zM1759 487h3V497h-3z" fill="#ef5350"/>
</g>
<path d="M711 26.5V825" stroke="rgba(242,54,69,0.6)" stroke-width="2" stroke-dasharray="10 12" fill="none"/>
<g shape-rendering="geometricPrecision" stroke="#ffffff" stroke-width="2" fill="none" stroke-linecap="round" stroke-linejoin="round"><path d="M716.1 208.8L772 306.1"/><path d="M757.2 302.5L772 306.1L776 291.7"/></g>
<text x="1773.6" y="96" font-size="12" fill="#b2b5be" textLength="41.5" lengthAdjust="spacingAndGlyphs" stroke="#b2b5be" stroke-width="0.2">1.27900</text>
<text x="1773.6" y="130.9" font-size="12" fill="#b2b5be" textLength="41.5" lengthAdjust="spacingAndGlyphs" stroke="#b2b5be" stroke-width="0.2">1.27800</text>
<text x="1773.6" y="165.9" font-size="12" fill="#b2b5be" textLength="41.5" lengthAdjust="spacingAndGlyphs" stroke="#b2b5be" stroke-width="0.2">1.27700</text>
<text x="1773.6" y="200.9" font-size="12" fill="#b2b5be" textLength="41.5" lengthAdjust="spacingAndGlyphs" stroke="#b2b5be" stroke-width="0.2">1.27600</text>
<text x="1773.6" y="235.8" font-size="12" fill="#b2b5be" textLength="41.5" lengthAdjust="spacingAndGlyphs" stroke="#b2b5be" stroke-width="0.2">1.27500</text>
<text x="1773.6" y="270.8" font-size="12" fill="#b2b5be" textLength="41.5" lengthAdjust="spacingAndGlyphs" stroke="#b2b5be" stroke-width="0.2">1.27400</text>
<text x="1773.6" y="305.7" font-size="12" fill="#b2b5be" textLength="41.5" lengthAdjust="spacingAndGlyphs" stroke="#b2b5be" stroke-width="0.2">1.27300</text>
<text x="1773.6" y="340.7" font-size="12" fill="#b2b5be" textLength="41.5" lengthAdjust="spacingAndGlyphs" stroke="#b2b5be" stroke-width="0.2">1.27200</text>
<text x="1773.6" y="375.6" font-size="12" fill="#b2b5be" textLength="41.5" lengthAdjust="spacingAndGlyphs" stroke="#b2b5be" stroke-width="0.2">1.27100</text>
<text x="1773.6" y="410.6" font-size="12" fill="#b2b5be" textLength="41.5" lengthAdjust="spacingAndGlyphs" stroke="#b2b5be" stroke-width="0.2">1.27000</text>
<text x="1773.6" y="445.5" font-size="12" fill="#b2b5be" textLength="41.5" lengthAdjust="spacingAndGlyphs" stroke="#b2b5be" stroke-width="0.2">1.26900</text>
<text x="1773.6" y="480.5" font-size="12" fill="#b2b5be" textLength="41.5" lengthAdjust="spacingAndGlyphs" stroke="#b2b5be" stroke-width="0.2">1.26800</text>
<text x="1773.6" y="515.4" font-size="12" fill="#b2b5be" textLength="41.5" lengthAdjust="spacingAndGlyphs" stroke="#b2b5be" stroke-width="0.2">1.26700</text>
<text x="1773.6" y="550.4" font-size="12" fill="#b2b5be" textLength="41.5" lengthAdjust="spacingAndGlyphs" stroke="#b2b5be" stroke-width="0.2">1.26600</text>
<text x="1773.6" y="585.3" font-size="12" fill="#b2b5be" textLength="41.5" lengthAdjust="spacingAndGlyphs" stroke="#b2b5be" stroke-width="0.2">1.26500</text>
<text x="1773.6" y="620.2" font-size="12" fill="#b2b5be" textLength="41.5" lengthAdjust="spacingAndGlyphs" stroke="#b2b5be" stroke-width="0.2">1.26400</text>
<text x="1773.6" y="655.2" font-size="12" fill="#b2b5be" textLength="41.5" lengthAdjust="spacingAndGlyphs" stroke="#b2b5be" stroke-width="0.2">1.26300</text>
<text x="1773.6" y="690.2" font-size="12" fill="#b2b5be" textLength="41.5" lengthAdjust="spacingAndGlyphs" stroke="#b2b5be" stroke-width="0.2">1.26200</text>
<text x="1773.6" y="725.1" font-size="12" fill="#b2b5be" textLength="41.5" lengthAdjust="spacingAndGlyphs" stroke="#b2b5be" stroke-width="0.2">1.26100</text>
<text x="1773.6" y="760.1" font-size="12" fill="#b2b5be" textLength="41.5" lengthAdjust="spacingAndGlyphs" stroke="#b2b5be" stroke-width="0.2">1.26000</text>
<text x="1773.6" y="795" font-size="12" fill="#b2b5be" textLength="41.5" lengthAdjust="spacingAndGlyphs" stroke="#b2b5be" stroke-width="0.2">1.25900</text>
<path d="M1765.5 480.5h53a2 2 0 0 1 2 2v12a2 2 0 0 1-2 2h-53z" fill="#131722" stroke="#787b86" stroke-width="1" shape-rendering="geometricPrecision"/>
<text x="1773.7" y="492.6" font-size="12" fill="#787b86" textLength="41" lengthAdjust="spacingAndGlyphs" stroke="#787b86" stroke-width="0.2">1.26765</text>
<path d="M1765 233h54a2 2 0 0 1 2 2v13a2 2 0 0 1-2 2h-54z" fill="#787b86" shape-rendering="geometricPrecision"/>
<text x="1773.8" y="245.8" font-size="12" fill="#ffffff" textLength="41.2" lengthAdjust="spacingAndGlyphs" font-weight="bold">1.27472</text>
<rect x="1769" y="31" width="52" height="26.5" rx="3.5" ry="3.5" fill="#131722" stroke="#363a45" stroke-width="1" shape-rendering="geometricPrecision"/>
<text x="1777.7" y="48.8" font-size="12" fill="#d1d4dc" textLength="21.2" lengthAdjust="spacingAndGlyphs" stroke="#d1d4dc" stroke-width="0.3">USD</text>
<text x="75" y="843" font-size="12" fill="#b2b5be" textLength="29" lengthAdjust="spacingAndGlyphs" stroke="#b2b5be" stroke-width="0.2">18:00</text>
<text x="164.7" y="843" font-size="12" fill="#b2b5be" textLength="11" lengthAdjust="spacingAndGlyphs" stroke="#b2b5be" stroke-width="0.2">11</text>
<text x="236.4" y="843" font-size="12" fill="#b2b5be" textLength="29" lengthAdjust="spacingAndGlyphs" stroke="#b2b5be" stroke-width="0.2">06:00</text>
<text x="317.1" y="843" font-size="12" fill="#b2b5be" textLength="29" lengthAdjust="spacingAndGlyphs" stroke="#b2b5be" stroke-width="0.2">12:00</text>
<text x="397.8" y="843" font-size="12" fill="#b2b5be" textLength="29" lengthAdjust="spacingAndGlyphs" stroke="#b2b5be" stroke-width="0.2">18:00</text>
<text x="487.5" y="843" font-size="12" fill="#b2b5be" textLength="11" lengthAdjust="spacingAndGlyphs" stroke="#b2b5be" stroke-width="0.2">12</text>
<text x="559.2" y="843" font-size="12" fill="#b2b5be" textLength="29" lengthAdjust="spacingAndGlyphs" stroke="#b2b5be" stroke-width="0.2">06:00</text>
<text x="639.9" y="843" font-size="12" fill="#b2b5be" textLength="29" lengthAdjust="spacingAndGlyphs" stroke="#b2b5be" stroke-width="0.2">12:00</text>
<text x="720.6" y="843" font-size="12" fill="#b2b5be" textLength="29" lengthAdjust="spacingAndGlyphs" stroke="#b2b5be" stroke-width="0.2">18:00</text>
<text x="810.3" y="843" font-size="12" fill="#b2b5be" textLength="11" lengthAdjust="spacingAndGlyphs" stroke="#b2b5be" stroke-width="0.2">15</text>
<text x="882" y="843" font-size="12" fill="#b2b5be" textLength="29" lengthAdjust="spacingAndGlyphs" stroke="#b2b5be" stroke-width="0.2">06:00</text>
<text x="962.7" y="843" font-size="12" fill="#b2b5be" textLength="29" lengthAdjust="spacingAndGlyphs" stroke="#b2b5be" stroke-width="0.2">12:00</text>
<text x="1043.4" y="843" font-size="12" fill="#b2b5be" textLength="29" lengthAdjust="spacingAndGlyphs" stroke="#b2b5be" stroke-width="0.2">18:00</text>
<text x="1133.1" y="843" font-size="12" fill="#b2b5be" textLength="11" lengthAdjust="spacingAndGlyphs" stroke="#b2b5be" stroke-width="0.2">16</text>
<text x="1204.8" y="843" font-size="12" fill="#b2b5be" textLength="29" lengthAdjust="spacingAndGlyphs" stroke="#b2b5be" stroke-width="0.2">06:00</text>
<text x="1285.5" y="843" font-size="12" fill="#b2b5be" textLength="29" lengthAdjust="spacingAndGlyphs" stroke="#b2b5be" stroke-width="0.2">12:00</text>
<text x="1366.2" y="843" font-size="12" fill="#b2b5be" textLength="29" lengthAdjust="spacingAndGlyphs" stroke="#b2b5be" stroke-width="0.2">18:00</text>
<text x="1455.9" y="843" font-size="12" fill="#b2b5be" textLength="11" lengthAdjust="spacingAndGlyphs" stroke="#b2b5be" stroke-width="0.2">17</text>
<text x="1527.6" y="843" font-size="12" fill="#b2b5be" textLength="29" lengthAdjust="spacingAndGlyphs" stroke="#b2b5be" stroke-width="0.2">06:00</text>
<text x="1608.3" y="843" font-size="12" fill="#b2b5be" textLength="29" lengthAdjust="spacingAndGlyphs" stroke="#b2b5be" stroke-width="0.2">12:00</text>
<text x="1689" y="843" font-size="12" fill="#b2b5be" textLength="29" lengthAdjust="spacingAndGlyphs" stroke="#b2b5be" stroke-width="0.2">18:00</text>
<text y="18.7" font-size="12" fill="#d1d4dc" stroke="#d1d4dc" stroke-width="0.25"><tspan x="9.8" textLength="52.8" lengthAdjust="spacingAndGlyphs">FXDSniper</tspan> <tspan x="67.8" textLength="50.2" lengthAdjust="spacingAndGlyphs">published</tspan> <tspan x="122.7" textLength="12.4" lengthAdjust="spacingAndGlyphs">on</tspan> <tspan x="139.8" textLength="93.5" lengthAdjust="spacingAndGlyphs">TradingView.com,</tspan> <tspan x="238" textLength="19.1" lengthAdjust="spacingAndGlyphs">Feb</tspan> <tspan x="262.3" textLength="15" lengthAdjust="spacingAndGlyphs">12,</tspan> <tspan x="282" textLength="24.8" lengthAdjust="spacingAndGlyphs">2024</tspan> <tspan x="310.7" textLength="28.2" lengthAdjust="spacingAndGlyphs">09:16</tspan> <tspan x="344.6" textLength="20.7" lengthAdjust="spacingAndGlyphs">UTC</tspan></text>
<text y="46" font-size="12" stroke-width="0.2"><tspan x="18.1" textLength="99.7" lengthAdjust="spacingAndGlyphs" fill="#b2b5be" stroke="#b2b5be">GBPUSD, 15, FXCM</tspan> <tspan x="125.1" textLength="7.5" lengthAdjust="spacingAndGlyphs" fill="#b2b5be" stroke="#b2b5be">O</tspan><tspan x="135.3" textLength="39.9" lengthAdjust="spacingAndGlyphs" fill="#ef5350" stroke="#ef5350">1.27490</tspan> <tspan x="183" textLength="6.9" lengthAdjust="spacingAndGlyphs" fill="#b2b5be" stroke="#b2b5be">H</tspan><tspan x="192.4" textLength="38.8" lengthAdjust="spacingAndGlyphs" fill="#ef5350" stroke="#ef5350">1.27521</tspan> <tspan x="240.4" textLength="5.3" lengthAdjust="spacingAndGlyphs" fill="#b2b5be" stroke="#b2b5be">L</tspan><tspan x="247.9" textLength="40" lengthAdjust="spacingAndGlyphs" fill="#ef5350" stroke="#ef5350">1.27470</tspan> <tspan x="295.4" textLength="6.7" lengthAdjust="spacingAndGlyphs" fill="#b2b5be" stroke="#b2b5be">C</tspan><tspan x="304" textLength="40.1" lengthAdjust="spacingAndGlyphs" fill="#ef5350" stroke="#ef5350">1.27472</tspan> <tspan x="352.2" textLength="96.9" lengthAdjust="spacingAndGlyphs" fill="#ef5350" stroke="#ef5350">&#8722;0.00018 (&#8722;0.01%)</tspan></text>
<text y="62.8" font-size="12" stroke-width="0.2"><tspan x="18.1" textLength="15.7" lengthAdjust="spacingAndGlyphs" fill="#b2b5be" stroke="#b2b5be">Vol</tspan> <tspan x="42.8" textLength="34.9" lengthAdjust="spacingAndGlyphs" fill="#434651" stroke="#434651">1.109K</tspan></text>
</svg>
<svg style="position:absolute;left:0;top:0" width="120" height="888" viewBox="0 0 120 888"><path fill="#d1d4dc" d="M10.1 865.2H17.9V874.8H14V869.1H10.1ZM24.8 865.2H29.6L25.7 874.8H20.9Z"/><circle cx="20.7" cy="867.1" r="1.8" fill="#d1d4dc"/>
<text x="32.9" y="874.8" font-size="12.2" fill="#d1d4dc" stroke="#d1d4dc" stroke-width="0.35" textLength="70.4" lengthAdjust="spacingAndGlyphs">TradingView</text></svg>
</body></html>
